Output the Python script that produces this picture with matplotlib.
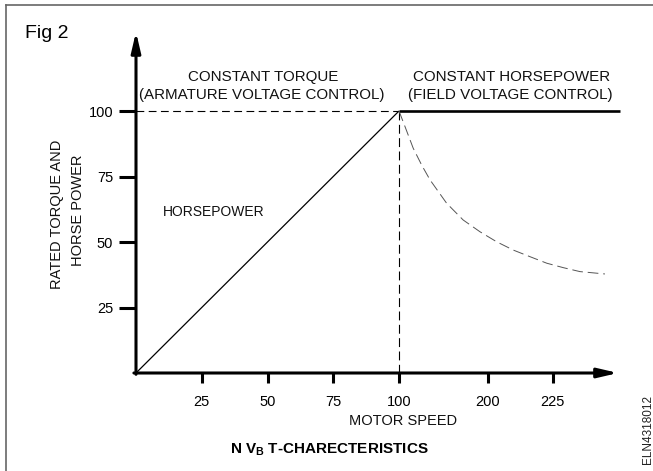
import matplotlib
matplotlib.use("Agg")
import matplotlib.pyplot as plt
from matplotlib.lines import Line2D

plt.rcParams['font.family'] = ['Liberation Sans', 'DejaVu Sans']
plt.rcParams['mathtext.fontset'] = 'custom'
plt.rcParams['mathtext.rm'] = 'Liberation Sans'
plt.rcParams['mathtext.bf'] = 'Liberation Sans:bold'

# ---- data ----
# constant-torque region: torque/horsepower rising linearly with speed
hp_rise_speed = [0, 100]
hp_rise_value = [0, 100]

# constant-horsepower region: rated value held at 100
const_hp_speed = [100, 184]
const_hp_value = [100, 100]

# falling torque in the field-weakening region
torque_fall_speed = [100, 102.3, 105.4, 108.6, 111.8, 118.1, 124.4, 130.8,
                     137.1, 143.5, 149.8, 156.2, 162.5, 168.8, 178.3]
torque_fall_value = [100, 94.0, 85.8, 79.4, 73.7, 64.8, 58.4, 53.9,
                     50.1, 46.9, 44.4, 41.9, 40.2, 38.7, 37.8]

base_speed = 100
rated_value = 100

speed_tick_pos = [25, 50, 75, 100, 133.8, 158.5]
speed_tick_labels = ["25", "50", "75", "100", "200", "225"]
rated_ticks = [25, 50, 75, 100]
rated_tick_labels = ["25", "50", "75", "100"]

W, H = 653, 471
fig = plt.figure(figsize=(W / 100, H / 100), dpi=100)


def fx(px):
    return px / W


def fy(py):
    return 1 - py / H


# axes: origin at pixel (136, 373)
x_max, y_max = 190, 135
ax = fig.add_axes([fx(136), fy(373), x_max * 2.63 / W, y_max * 2.62 / H])
ax.set_xlim(0, x_max)
ax.set_ylim(0, y_max)
for s in ax.spines.values():
    s.set_visible(False)
ax.patch.set_alpha(0)

# axis lines with arrowheads
arrow = dict(arrowstyle='-|>,head_length=1.2,head_width=0.28', lw=2.2,
             color='black', mutation_scale=10, shrinkA=0, shrinkB=0)
ax.annotate('', xy=(0, 130.2), xytext=(0, -0.5), arrowprops=arrow,
            annotation_clip=False)
ax.annotate('', xy=(183.3, 0), xytext=(-0.8, 0), arrowprops=arrow,
            annotation_clip=False)

ax.set_xticks(speed_tick_pos)
ax.set_xticklabels(speed_tick_labels)
ax.set_yticks(rated_ticks)
ax.set_yticklabels(rated_tick_labels)
ax.tick_params(axis='x', direction='out', length=7, width=2.2, pad=9,
               labelsize=10.5, color='black')
ax.tick_params(axis='y', direction='out', length=12.5, width=2.2, pad=4,
               labelsize=10.5, color='black')

# curves
ax.plot(hp_rise_speed, hp_rise_value, color='black', lw=0.9,
        solid_capstyle='butt')
ax.plot(const_hp_speed, const_hp_value, color='black', lw=1.9,
        solid_capstyle='butt', clip_on=False)
ax.plot([0, base_speed], [rated_value, rated_value], color='black', lw=0.8,
        linestyle=(0, (7, 4)))
ax.plot([base_speed, base_speed], [rated_value, 0], color='black', lw=0.8,
        linestyle=(0, (8, 4)))
ax.plot(torque_fall_speed, torque_fall_value, color='#555555', lw=0.7,
        linestyle=(0, (11, 5)))

# region headings
fig.text(fx(263.5), fy(77), "CONSTANT TORQUE", ha='center', va='center',
         fontsize=10.9, color='#111111')
fig.text(fx(262), fy(95), "(ARMATURE VOLTAGE CONTROL)", ha='center',
         va='center', fontsize=10.9, color='#111111')
fig.text(fx(511.5), fy(77), "CONSTANT HORSEPOWER", ha='center', va='center',
         fontsize=10.9, color='#111111')
fig.text(fx(510.5), fy(95), "(FIELD VOLTAGE CONTROL)", ha='center',
         va='center', fontsize=10.9, color='#111111')
fig.text(fx(163), fy(212), "HORSEPOWER", ha='left', va='center',
         fontsize=10, color='#111111')

# axis titles
fig.text(fx(57.5), fy(214), "RATED TORQUE AND", ha='center', va='center',
         rotation=90, fontsize=10.5, color='#111111')
fig.text(fx(77.5), fy(210), "HORSE POWER", ha='center', va='center',
         rotation=90, fontsize=10.5, color='#111111')
fig.text(fx(403), fy(421), "MOTOR SPEED", ha='center', va='center',
         fontsize=10.5, color='#111111')

fig.text(fx(329), fy(450), r"N V$_{\mathbf{B}}$ T-CHARECTERISTICS",
         ha='center', va='center', fontsize=11, fontweight='bold')
fig.text(fx(25), fy(33), "Fig 2", ha='left', va='center', fontsize=14)
fig.text(fx(648), fy(430), "ELN4318012", ha='center', va='center',
         rotation=90, fontsize=8.5, color='#222222')

# frame edges
fig.add_artist(Line2D([fx(6), 1], [fy(5), fy(5)], color='#666666', lw=1.2))
fig.add_artist(Line2D([fx(6), fx(6)], [fy(5), 0], color='#666666', lw=1.2))

fig.savefig("out.png", dpi=100)
